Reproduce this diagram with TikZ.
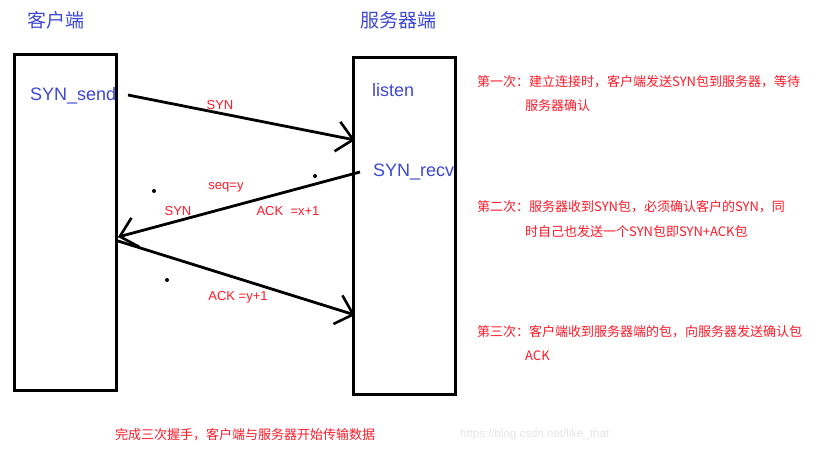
\documentclass[tikz,border=0pt]{standalone}
\usepackage{fontspec}
\setmainfont{Liberation Sans}
\newfontfamily\cjk{Noto Sans CJK SC}
\usetikzlibrary{arrows.meta}
\definecolor{lblue}{RGB}{62,72,210}
\definecolor{lred}{RGB}{255,25,40}
\tikzset{
  box/.style={draw=black, line width=3pt, minimum width=102pt, inner sep=0pt},
  title/.style={text=lblue, font=\cjk\fontsize{19}{20}\selectfont, anchor=west, inner sep=0pt},
  state/.style={text=lblue, font=\fontsize{18}{20}\selectfont, anchor=west, inner sep=0pt},
  lbl/.style={text=lred, font=\fontsize{13}{14}\selectfont, inner sep=0pt},
  note/.style={text=lred, font=\cjk\fontsize{13}{14}\selectfont, anchor=west, inner sep=0pt},
  msg/.style={line width=2.8pt, -{Straight Barb[length=16pt,width=30pt,line width=2.6pt]}},
  speck/.style={fill=black, inner sep=0pt, minimum size=4pt, circle},
}
\begin{document}
\begin{tikzpicture}[x=1pt,y=-1pt]
\useasboundingbox (0,0) rectangle (821,452);
% boxes
\node[box, minimum height=336pt] (client) at (65.5,222.5) {};
\node[box, minimum height=337pt] (server) at (404.5,226) {};
% titles
\node[title] (tc) at (27,20) {客户端};
\node[title] (ts) at (360,20) {服务器端};
% states
\node[state] (ssend) at (30,96) {SYN\_send};
\node[state] (slisten) at (372,90) {listen};
\node[state] (srecv) at (373,172) {SYN\_recv};
% connector end points
\coordinate (a1s) at (128,95);
\coordinate (a1e) at (355,140);
\coordinate (a2s) at (360,172);
\coordinate (a2e) at (118,237);
\coordinate (a3s) at (118,241);
\coordinate (a3e) at (355,315);
\draw[msg] (a1s) -- (a1e);
\draw[msg] (a2s) -- (a2e);
\draw[msg] (a3s) -- (a3e);
% labels
\node[lbl] (l1) at (220,105) {SYN};
\node[lbl] (l2) at (226,187) {seq=y};
\node[lbl] (l3) at (178,211) {SYN};
\node[lbl] (l4) at (288,211) {ACK \ =x+1};
\node[lbl] (l5) at (238,297) {ACK =y+1};
% stray dots
\node[speck] (d1) at (154,191) {};
\node[speck] (d2) at (315,176) {};
\node[speck] (d3) at (167,280) {};
% notes
\node[note] (n1a) at (477,82) {第一次：建立连接时，客户端发送SYN包到服务器，等待};
\node[note] (n1b) at (525,106) {服务器确认};
\node[note] (n2a) at (477,207) {第二次：服务器收到SYN包，必须确认客户的SYN，同};
\node[note] (n2b) at (525,232) {时自己也发送一个SYN包即SYN+ACK包};
\node[note] (n3a) at (477,332) {第三次：客户端收到服务器端的包，向服务器发送确认包};
\node[note] (n3b) at (525,356) {ACK};
\node[note] (fin) at (115,435) {完成三次握手，客户端与服务器开始传输数据};
\node[text=black!10, font=\fontsize{11.5}{13}\selectfont, anchor=west, inner sep=0pt] (wm) at (460,435) {https://blog.csdn.net/like\_that};
\end{tikzpicture}
\end{document}
